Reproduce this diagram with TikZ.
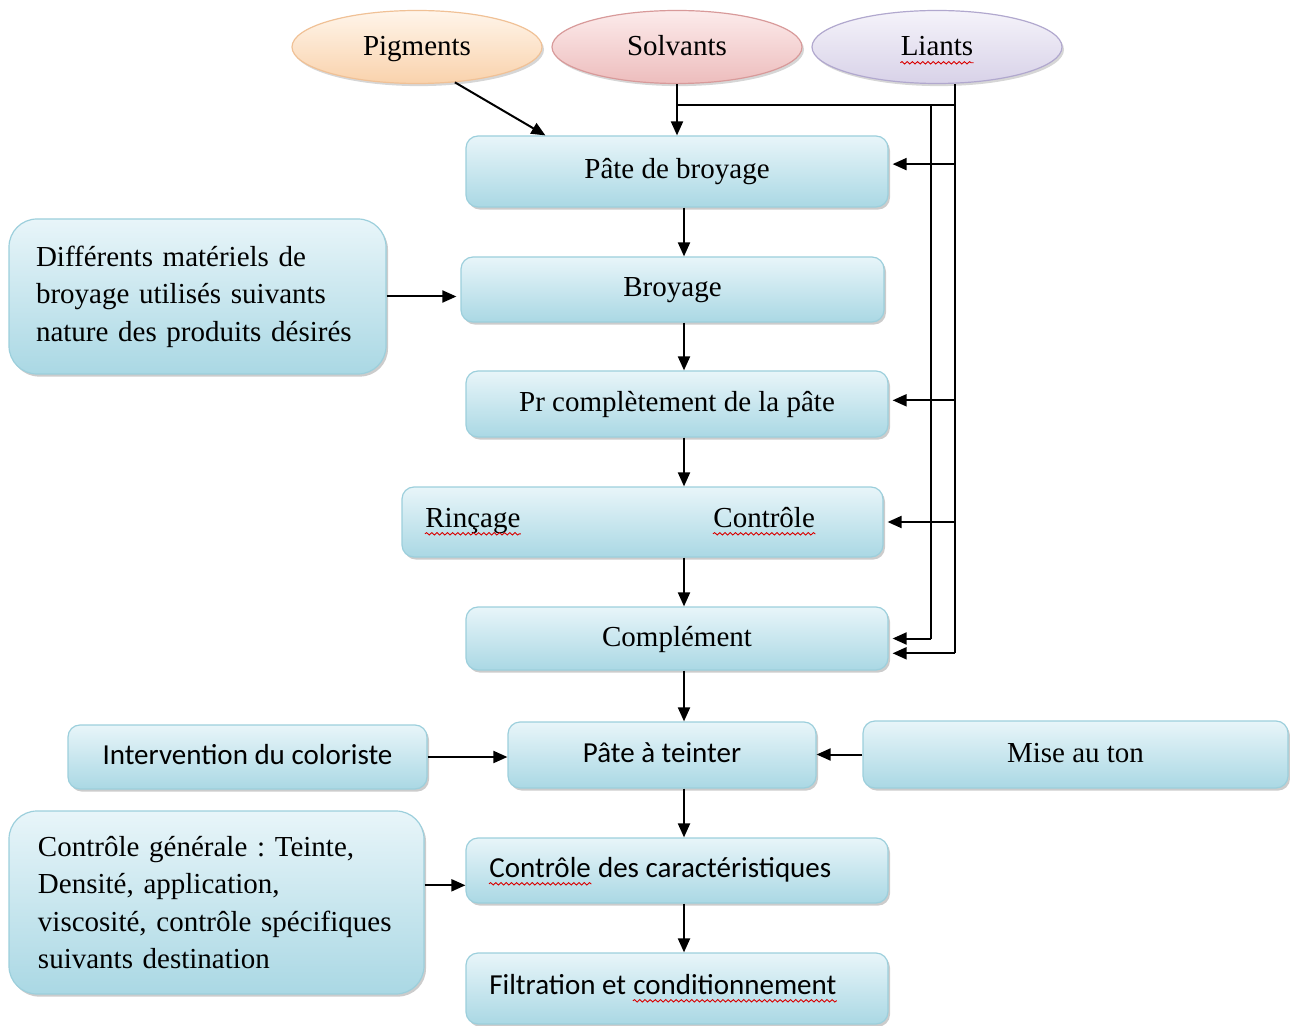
\documentclass[tikz,border=0pt]{standalone}
\usepackage{fontspec}
\setmainfont{Liberation Serif}
\newfontfamily\calib{Carlito}
\frenchspacing
\usetikzlibrary{positioning,arrows.meta,shadows,shapes.geometric,calc,decorations.pathmorphing}

\definecolor{boxtop}{HTML}{E8F5F9}
\definecolor{boxbot}{HTML}{AAD8E4}
\definecolor{boxline}{HTML}{9CCFDC}
\definecolor{pigtop}{HTML}{FFF5EA}
\definecolor{pigbot}{HTML}{F9D2AC}
\definecolor{pigline}{HTML}{F0C196}
\definecolor{soltop}{HTML}{FCEBEB}
\definecolor{solbot}{HTML}{EDBDBD}
\definecolor{solline}{HTML}{D89A9A}
\definecolor{liatop}{HTML}{F5F3FA}
\definecolor{liabot}{HTML}{D8D2E8}
\definecolor{lialine}{HTML}{B1A8CE}

\tikzset{
  stepbox/.style={rectangle, rounded corners=6pt, draw=boxline, line width=0.6pt,
    top color=boxtop, bottom color=boxbot, inner sep=0pt,
    text height=10pt, text depth=2.5pt,
    drop shadow={shadow xshift=1pt, shadow yshift=-1.3pt, fill=black!40, opacity=0.5},
    font=\fontsize{14.5}{17}\selectfont},
  sidebox/.style={stepbox, rounded corners=14pt, align=left,
    text height=, text depth=,
    font=\fontsize{14.5}{18.8}\selectfont},
  sansbox/.style={stepbox, font=\calib\fontsize{14.5}{17}\selectfont},
  ingr/.style={ellipse, line width=0.6pt, minimum width=125pt, minimum height=36.5pt,
    inner sep=0pt, text height=10pt, text depth=1pt, font=\fontsize{14.5}{17}\selectfont,
    drop shadow={shadow xshift=1pt, shadow yshift=-1.3pt, fill=black!40, opacity=0.4}},
  word/.style={inner sep=0pt, font=\fontsize{14.5}{17}\selectfont},
  sansword/.style={inner sep=0pt, font=\calib\fontsize{14.5}{17}\selectfont},
  spellwave/.style={red!85!black, line width=0.45pt, decorate,
    decoration={snake, amplitude=0.6pt, segment length=2.6pt}},
  flow/.style={-{Triangle[length=7pt,width=6pt]}, line width=1pt},
  wire/.style={line width=1pt},
}

\begin{document}
\begin{tikzpicture}[x=0.5pt,y=-0.5pt]
\useasboundingbox (0,0) rectangle (1290,1026);

% ingredients
\node[ingr, draw=pigline, top color=pigtop, bottom color=pigbot] (pig) at (417,47) {Pigments};
\node[ingr, draw=solline, top color=soltop, bottom color=solbot] (solv) at (677,47) {Solvants};
\node[ingr, draw=lialine, top color=liatop, bottom color=liabot] (liant) at (937,47) {};
\node[word, anchor=base] (liantT) at ($(solv.base)+(260,0)$) {Liants};

% main column
\node[stepbox, minimum width=211pt, minimum height=35.5pt] (pate) at (677,171.5) {Pâte de broyage};
\node[stepbox, minimum width=211.5pt, minimum height=32.5pt] (broy) at (672.5,289.5) {Broyage};
\node[stepbox, minimum width=211pt, minimum height=33pt] (compl) at (677,404) {Pr complètement de la pâte};
\node[stepbox, minimum width=240.5pt, minimum height=35pt] (rinc) at (642.5,522) {};
\node[word, anchor=base west] (rincT) at (425,527) {Rinçage};
\node[word, anchor=base west] (ctrlT) at (713,527) {Contrôle};
\node[stepbox, minimum width=211pt, minimum height=31.5pt] (cplm) at (677,638.5) {Complément};
\node[sansbox, minimum width=154pt, minimum height=33pt] (teint) at (662,755) {Pâte à teinter};
\node[sansbox, minimum width=211pt, minimum height=32.5pt] (carac) at (677,870.5) {};
\node[sansword, anchor=base west] (caracA) at (489,877) {Contrôle};
\node[sansword, base right=3.2pt of caracA] (caracB) {des caractéristiques};
\node[sansbox, minimum width=211pt, minimum height=35.5pt] (filt) at (677,988.5) {};
\node[sansword, anchor=base west] (filtA) at (489,994) {Filtration et};
\node[sansword, base right=3.2pt of filtA] (filtB) {conditionnement};

% spell-check waves
\foreach \w in {liantT,rincT,ctrlT,caracA,filtB}
  \draw[spellwave] ([yshift=-3.4pt]\w.base west) -- ([yshift=-3.4pt]\w.base east);

% side boxes
\node[sidebox, minimum width=188.5pt, minimum height=77.5pt, text width=161.5pt] (mat) at (197.5,296.5)
  {Différents matériels de\\broyage utilisés suivants\\nature des produits désirés};
\node[sansbox, minimum width=179.5pt, minimum height=32pt] (interv) at (247.5,757) {Intervention du coloriste};
\node[stepbox, minimum width=212.5pt, minimum height=33.5pt] (ton) at (1075.5,754.5) {Mise au ton};
\node[sidebox, minimum width=207.5pt, minimum height=91.5pt, text width=178.5pt] (cgen) at (216.5,902.5)
  {Contrôle générale : Teinte,\\Densité, application,\\viscosité, contrôle spécifiques\\suivants destination};

% feed lines
\coordinate (liantbus) at (955,105);
\coordinate (innerbus) at (931,105);
\coordinate (axis) at (684,0);
\draw[flow] (pig.-43) -- ($(pate.north west)+(80,0)$);
\draw[flow] (solv.south) -- (solv.south |- pate.north);
\draw[wire] (solv.south |- liantbus) -- (liantbus);
\draw[wire] (liantbus |- liant.south) -- (liantbus |- cplm.-4);
\draw[wire] (innerbus) -- (innerbus |- cplm.east);
\draw[flow, shorten >=2pt] (liantbus |- pate.2) -- (pate.2);
\draw[flow, shorten >=2pt] (liantbus |- compl.1) -- (compl.1);
\draw[flow, shorten >=2pt] (liantbus |- rinc.east) -- (rinc.east);
\draw[flow, shorten >=2pt] (innerbus |- cplm.east) -- (cplm.east);
\draw[flow, shorten >=2pt] (liantbus |- cplm.-4) -- (cplm.-4);

% process steps
\draw[flow] (axis |- pate.south) -- (axis |- broy.north);
\draw[flow] (axis |- broy.south) -- (axis |- compl.north);
\draw[flow] (axis |- compl.south) -- (axis |- rinc.north);
\draw[flow] (axis |- rinc.south) -- (axis |- cplm.north);
\draw[flow] (axis |- cplm.south) -- (axis |- teint.north);
\draw[flow] (axis |- teint.south) -- (axis |- carac.north);
\draw[flow] (axis |- carac.south) -- (axis |- filt.north);

% side inputs
\draw[flow, shorten >=2pt] (mat.east) -- (mat.east -| broy.west);
\draw[flow] (interv.east) -- (interv.east -| teint.west);
\draw[flow] (ton.west) -- (ton.west -| teint.east);
\draw[flow] (cgen.east |- carac.184) -- (carac.184);
\end{tikzpicture}
\end{document}
